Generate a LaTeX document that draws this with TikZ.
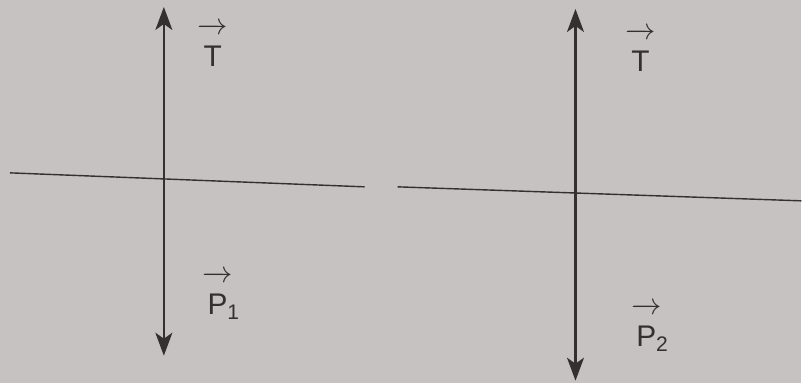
\documentclass[tikz,border=0pt]{standalone}
\usepackage{fontspec}
\setsansfont{Liberation Sans}
\usetikzlibrary{arrows.meta}
\definecolor{paper}{RGB}{198,194,193}
\definecolor{ink}{RGB}{52,48,48}
\newcommand{\vecsf}[1]{$\overrightarrow{\rule{0pt}{1.12em}\textsf{#1}}$}
\newcommand{\subsf}[1]{\kern-3pt\raisebox{-3pt}{\fontsize{12}{12}\selectfont #1}}
\begin{document}
\begin{tikzpicture}[x=0.02cm,y=-0.02cm,
  force/.style={ink,line width=1.2pt,{Stealth[length=4.6mm,width=3.4mm,inset=1.2mm]}-{Stealth[length=4.6mm,width=3.4mm,inset=1.2mm]}},
  axis/.style={ink,line width=0.8pt},
  lbl/.style={ink,inner sep=0pt,font=\sffamily\fontsize{17}{20}\selectfont}]
\fill[paper] (0,0) rectangle (802,383);
% first body
\coordinate (left1) at (10,173);
\coordinate (right1) at (365,187);
\draw[axis] (left1) -- (right1);
\coordinate (up1) at (164,7);
\coordinate (down1) at (164,356);
\draw[force] (down1) -- (up1);
\node[lbl] (T1) at (213,45) {\vecsf{T}};
\node[lbl] (P1) at (221,296) {\vecsf{P}\subsf{1}};
% second body
\coordinate (left2) at (398,187);
\coordinate (right2) at (802,201);
\draw[axis] (left2) -- (right2);
\coordinate (up2) at (576,9);
\coordinate (down2) at (576,381);
\draw[force] (down2) -- (up2);
\node[lbl] (T2) at (641,50) {\vecsf{T}};
\node[lbl] (P2) at (650,328) {\vecsf{P}\subsf{2}};
\end{tikzpicture}
\end{document}
